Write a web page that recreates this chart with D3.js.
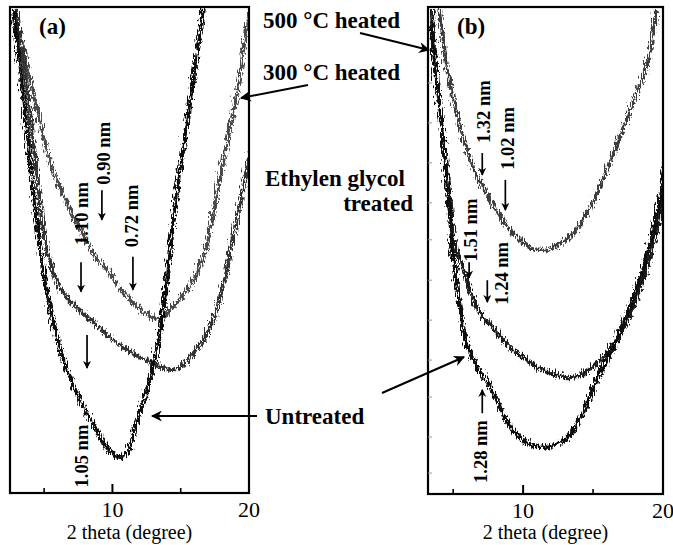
<!DOCTYPE html>
<html>
<head>
<meta charset="utf-8">
<script src="https://cdn.jsdelivr.net/npm/d3@7"></script>
<style>
  body { margin: 0; background: #fff; }
  svg { display: block; }
  text { fill: #000; }
  .lbl { font-weight: bold; font-size: 23px; }
  .ann { font-weight: bold; font-size: 18.5px; }
  .tick { font-size: 22px; }
  .title { font-size: 20px; }
</style>
</head>
<body>
<div id="canvas"></div>
<script>
// DATA  [2 theta (deg), intensity (a.u., 0-100 of panel height)]
const a_300C = [[2.72,100],[3.60,88.1],[4.70,74.7],[5.43,67.1],[6.16,62.3],[6.89,57.8],[7.84,52.7],[8.58,49.0],[9.60,45.9],[10.33,42.8],[11.50,39.1],[12.53,37.0],[13.26,36.0],[14.21,38.7],[15.46,42.8],[16.41,48.4],[17.36,60.3],[18.24,72.6],[18.97,82.9],[19.41,91.2],[19.85,99.4]];
const a_glycol = [[2.79,100],[3.38,87.7],[3.96,74.1],[4.70,56.2],[5.21,48.6],[6.16,41.8],[7.62,37.7],[9.08,34.0],[10.55,30.5],[12.01,28.2],[13.48,26.3],[14.43,25.9],[15.31,27.8],[16.41,31.5],[17.51,38.7],[18.46,50.0],[19.19,60.3],[19.92,70.6]];
const a_untreated = [[2.57,100],[3.09,87.7],[3.60,74.1],[4.11,60.3],[4.92,43.8],[5.65,33.5],[6.38,26.7],[7.40,19.8],[8.36,15.0],[9.09,11.2],[9.82,8.6],[10.55,7.8],[11.07,9.6],[11.50,14.0],[12.24,20.6],[12.75,25.9],[13.19,31.5],[13.70,41.8],[14.43,60.3],[15.09,72.6],[15.82,87.0],[16.48,100]];

const b_500C = [[3.85,100],[4.28,89.7],[4.92,80.9],[5.64,72.7],[6.43,66.5],[7.15,62.4],[8.01,58.3],[8.73,55.2],[9.59,52.6],[10.52,50.9],[11.60,50.7],[12.68,52.2],[13.75,55.2],[14.83,60.4],[15.91,67.6],[16.77,74.1],[17.56,79.9],[18.20,84.4],[18.92,91.2],[19.35,100]];
const b_glycol = [[3.34,100],[3.49,91.2],[4.06,75.4],[4.56,62.4],[4.92,52.2],[5.50,47.0],[6.07,41.9],[6.79,37.4],[7.65,34.7],[8.73,31.0],[9.80,28.5],[10.88,26.5],[11.96,25.1],[13.03,24.4],[14.11,25.1],[15.19,27.5],[16.62,32.6],[17.84,39.8],[18.78,48.0],[19.50,56.3],[20.0,63.4]];
const b_untreated = [[3.2,97.3],[3.49,89.1],[4.06,74.7],[4.49,60.4],[4.78,50.1],[5.28,39.8],[5.86,30.6],[6.57,26.5],[7.44,22.8],[8.15,18.3],[8.87,14.6],[9.80,11.5],[11.02,10.1],[11.96,10.5],[13.03,12.1],[14.11,17.2],[15.19,24.4],[16.27,30.6],[17.34,37.8],[18.42,47.0],[19.28,56.3],[20.0,67.6]];

// peak markers: [label, text 2θ, text I, arrow 2θ, arrow from I, arrow to I]
const a_peaks = [["0.90 nm",9.38,69.9,9.23,62.3,56.2],["1.10 nm",7.77,57.5,7.70,47.5,41.4],["0.72 nm",11.39,57.0,11.50,48.6,41.8],["1.05 nm",7.77,7.6,8.14,32.5,25.7]];
const b_peaks = [["1.32 nm",7.15,78.5,7.08,70.0,65.5],["1.02 nm",8.87,73.0,8.73,64.5,58.3],["1.51 nm",6.22,54.2,6.14,47.6,44.4],["1.24 nm",8.48,45.3,7.44,43.9,39.4],["1.28 nm",6.93,8.7,7.08,16.6,21.4]];

const majorTicks = [10, 20];
const minorTicks = [5, 15];
const b_yTicks = [4.3, 11.7, 19.9, 27.5, 35.7, 43.9, 52.2, 59.8, 68.0, 76.2, 84.4];

// DIMENSIONS
const width = 673, height = 545;
const serif = '"Liberation Serif", "Times New Roman", serif';

const svg = d3.select('#canvas').append('svg')
  .attr('width', width).attr('height', height)
  .attr('font-family', serif);

const defs = svg.append('defs');
const filt = defs.append('filter').attr('id', 'noise')
  .attr('filterUnits', 'userSpaceOnUse')
  .attr('x', 0).attr('y', 0).attr('width', width).attr('height', height);
filt.append('feTurbulence').attr('type', 'turbulence')
  .attr('baseFrequency', '0.7 0.12').attr('numOctaves', 2).attr('seed', 4).attr('result', 't');
filt.append('feDisplacementMap').attr('in', 'SourceGraphic').attr('in2', 't')
  .attr('scale', 9).attr('xChannelSelector', 'R').attr('yChannelSelector', 'G');

defs.append('marker').attr('id', 'head')
  .attr('viewBox', '0 0 10 10').attr('refX', 9).attr('refY', 5)
  .attr('markerWidth', 8).attr('markerHeight', 8).attr('markerUnits', 'userSpaceOnUse')
  .attr('orient', 'auto')
  .append('path').attr('d', 'M0,0 L10,5 L0,10 L3,5 Z').attr('fill', '#000');

defs.append('marker').attr('id', 'head2')
  .attr('viewBox', '0 0 10 10').attr('refX', 9).attr('refY', 5)
  .attr('markerWidth', 14).attr('markerHeight', 11).attr('markerUnits', 'userSpaceOnUse')
  .attr('orient', 'auto')
  .append('path').attr('d', 'M0,0 L10,5 L0,10 L3,5 Z').attr('fill', '#000');

function drawPanel(p) {
  const x = d3.scaleLinear().domain(p.domain).range([p.left, p.right]);
  const y = d3.scaleLinear().domain([0, 100]).range([p.bottom, p.top]);

  defs.append('clipPath').attr('id', 'clip' + p.name)
    .append('rect').attr('x', p.left).attr('y', p.top)
    .attr('width', p.right - p.left).attr('height', p.bottom - p.top);

  const line = d3.line().x(d => x(d[0])).y(d => y(d[1]))
    .curve(d3.curveCatmullRom.alpha(0.5));

  const curves = svg.append('g').attr('clip-path', `url(#clip${p.name})`)
    .append('g').attr('filter', 'url(#noise)');
  p.series.forEach(s => {
    curves.append('path').datum(s.data)
      .attr('d', line).attr('fill', 'none')
      .attr('stroke', s.color).attr('stroke-width', s.w)
      .attr('stroke-linejoin', 'round');
  });

  // frame
  svg.append('rect').attr('x', p.left).attr('y', p.top)
    .attr('width', p.right - p.left).attr('height', p.bottom - p.top)
    .attr('fill', 'none').attr('stroke', '#000').attr('stroke-width', 2.2);

  // bottom ticks (inward)
  svg.selectAll(null).data(majorTicks.filter(t => t < p.domain[1])).enter()
    .append('line').attr('x1', d => x(d)).attr('x2', d => x(d))
    .attr('y1', p.bottom).attr('y2', p.bottom - 9)
    .attr('stroke', '#000').attr('stroke-width', 2);
  svg.selectAll(null).data(minorTicks).enter()
    .append('line').attr('x1', d => x(d)).attr('x2', d => x(d))
    .attr('y1', p.bottom).attr('y2', p.bottom - 5)
    .attr('stroke', '#000').attr('stroke-width', 1.6);
  svg.selectAll(null).data(majorTicks).enter()
    .append('text').attr('class', 'tick')
    .attr('x', d => x(d)).attr('y', p.bottom + 24)
    .attr('text-anchor', 'middle').text(d => d);

  (p.yTicks || []).forEach(t => {
    svg.append('line').attr('x1', p.left).attr('x2', p.left + 4)
      .attr('y1', y(t)).attr('y2', y(t)).attr('stroke', '#999').attr('stroke-width', 1);
  });

  svg.append('text').attr('class', 'title')
    .attr('x', (p.left + p.right) / 2).attr('y', 539)
    .attr('text-anchor', 'middle').text('2 theta (degree)');

  svg.append('text').attr('class', 'lbl')
    .attr('x', p.left + 29).attr('y', 34).text(p.tag);

  // peak annotations
  p.peaks.forEach(d => {
    svg.append('text').attr('class', 'ann')
      .attr('transform', `translate(${x(d[1])},${y(d[2])}) rotate(-90)`)
      .attr('text-anchor', 'middle').attr('dy', '0.35em').text(d[0]);
    svg.append('line')
      .attr('x1', x(d[3])).attr('x2', x(d[3]))
      .attr('y1', y(d[4])).attr('y2', y(d[5]))
      .attr('stroke', '#000').attr('stroke-width', 1.7)
      .attr('marker-end', 'url(#head)');
  });
}

drawPanel({
  name: 'a', tag: '(a)', left: 10, right: 249, top: 7, bottom: 493, domain: [2.5, 20],
  series: [
    { data: a_300C, color: '#4a4a4a', w: 3.6 },
    { data: a_glycol, color: '#333', w: 3.8 },
    { data: a_untreated, color: '#111', w: 4 }
  ],
  peaks: a_peaks
});

drawPanel({
  name: 'b', tag: '(b)', left: 428, right: 663, top: 7, bottom: 494, domain: [3.2, 20],
  series: [
    { data: b_500C, color: '#3c3c3c', w: 3.6 },
    { data: b_glycol, color: '#1e1e1e', w: 4 },
    { data: b_untreated, color: '#0c0c0c', w: 4.2 }
  ],
  peaks: b_peaks,
  yTicks: b_yTicks
});

// sample labels between the panels
const sampleLabels = [
  { t: '500 \u00B0C heated', x: 263, y: 28, a: 'start' },
  { t: '300 \u00B0C heated', x: 263, y: 80, a: 'start' },
  { t: 'Ethylen glycol', x: 265, y: 186, a: 'start' },
  { t: 'treated', x: 413, y: 211, a: 'end' },
  { t: 'Untreated', x: 265, y: 424, a: 'start' }
];
svg.selectAll(null).data(sampleLabels).enter()
  .append('text').attr('class', 'lbl')
  .attr('x', d => d.x).attr('y', d => d.y).attr('text-anchor', d => d.a)
  .text(d => d.t);

const pointers = [
  [360, 33, 429, 50], [308, 85, 241, 98], [257, 416, 152, 416], [382, 393, 464, 357]
];
svg.selectAll(null).data(pointers).enter()
  .append('line')
  .attr('x1', d => d[0]).attr('y1', d => d[1]).attr('x2', d => d[2]).attr('y2', d => d[3])
  .attr('stroke', '#000').attr('stroke-width', 2)
  .attr('marker-end', 'url(#head2)');
</script>
</body>
</html>
